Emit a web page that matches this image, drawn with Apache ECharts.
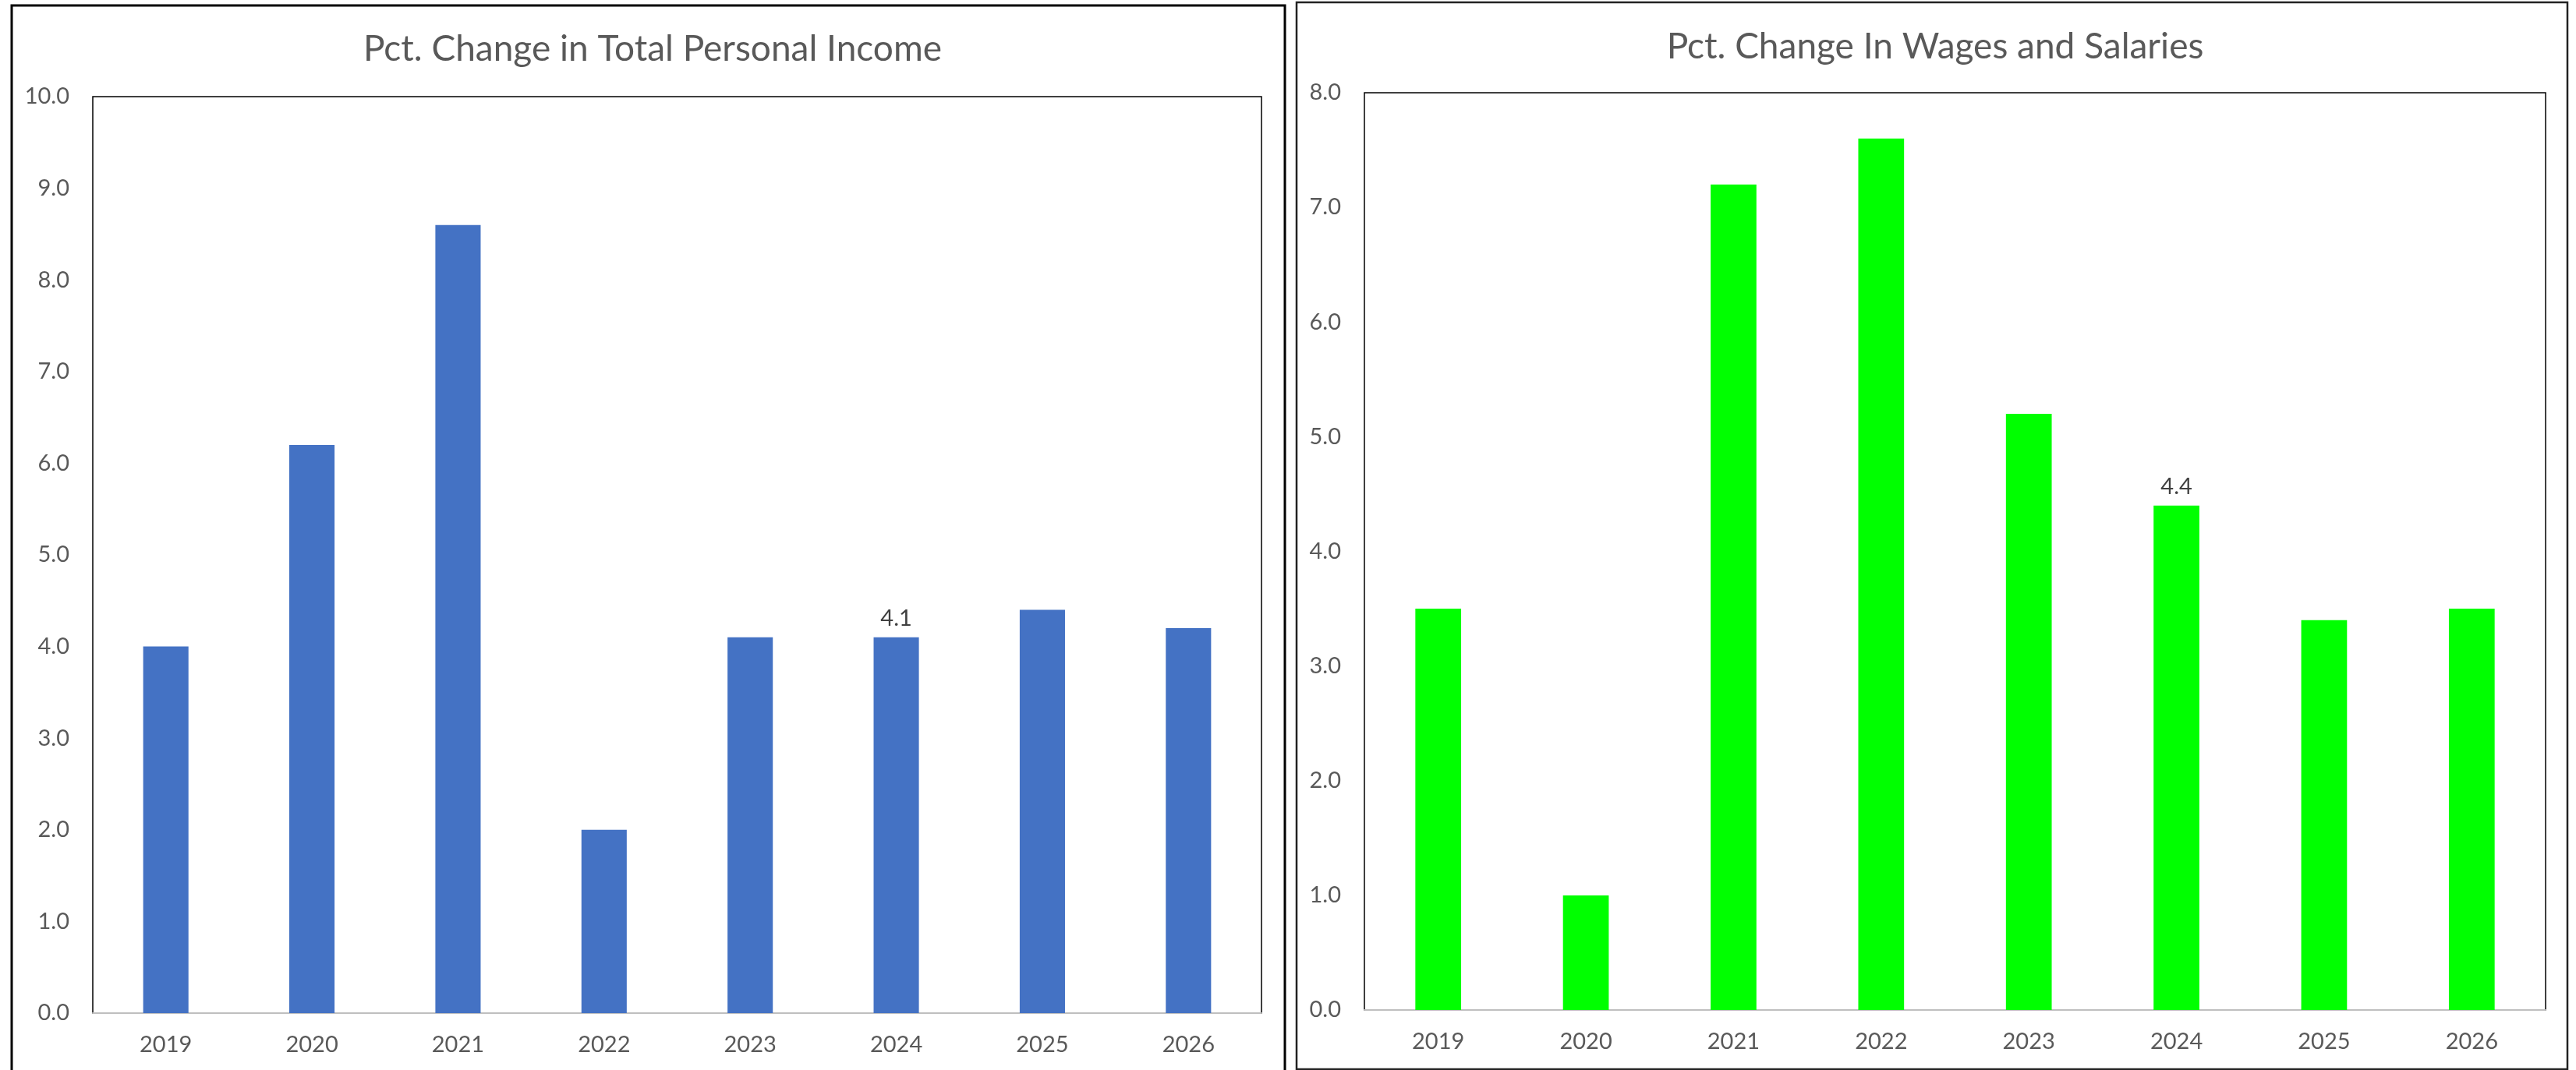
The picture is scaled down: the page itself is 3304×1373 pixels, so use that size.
<!DOCTYPE html>
<html>
<head>
<meta charset="utf-8">
<script src="https://cdn.jsdelivr.net/npm/echarts@6/dist/echarts.min.js"></script>
<style>
html,body{margin:0;padding:0;background:#fff;}
#c{width:3304px;height:1373px;}
</style>
</head>
<body>
<div id="c"></div>
<script>
const years = ['2019','2020','2021','2022','2023','2024','2025','2026'];
const incomeTitle = 'Pct. Change in Total Personal Income';
const wagesTitle = 'Pct. Change In Wages and Salaries';
const incomeValues = [4.0, 6.2, 8.6, 2.0, 4.1, 4.1, 4.4, 4.2];
const wagesValues = [3.5, 1.0, 7.2, 7.6, 5.2, 4.4, 3.4, 3.5];
const labelledYear = '2024';
const incomeAxisMax = 10;
const wagesAxisMax = 8;

const FONT = 'Lato';
const labelIdx = years.indexOf(labelledYear);
function withLabel(vals){
  return vals.map((v,i)=> i===labelIdx ? {value:v, label:{show:true}} : v);
}
function yAxis(gi, max){
  return {
    type:'value', gridIndex:gi, min:0, max:max, interval:1,
    axisLine:{show:false}, axisTick:{show:false}, splitLine:{show:false},
    axisLabel:{color:'#595959', fontSize:29, fontFamily:FONT, margin:30,
      formatter:v=>v.toFixed(1)}
  };
}
function xAxis(gi){
  return {
    type:'category', gridIndex:gi, data:years,
    axisLine:{show:true, lineStyle:{color:'#BFBFBF', width:2}},
    axisTick:{show:false}, splitLine:{show:false},
    axisLabel:{color:'#595959', fontSize:29, fontFamily:FONT, margin:26}
  };
}
const chart = echarts.init(document.getElementById('c'), null, {renderer:'canvas'});
chart.setOption({
  backgroundColor:'#fff',
  animation:false,
  title:[
    {text:incomeTitle, left:832, top:35, textAlign:'center',
     textStyle:{color:'#595959', fontSize:46, fontWeight:'normal', fontFamily:FONT}},
    {text:wagesTitle, left:2477, top:32, textAlign:'center',
     textStyle:{color:'#595959', fontSize:46, fontWeight:'normal', fontFamily:FONT}}
  ],
  grid:[
    {left:119, top:124, right:1686, bottom:73, show:true, borderColor:'#000', borderWidth:1.5, backgroundColor:'#fff'},
    {left:1750, top:119, right:39, bottom:77, show:true, borderColor:'#000', borderWidth:1.5, backgroundColor:'#fff'}
  ],
  xAxis:[xAxis(0), xAxis(1)],
  yAxis:[yAxis(0, incomeAxisMax), yAxis(1, wagesAxisMax)],
  series:[
    {type:'bar', xAxisIndex:0, yAxisIndex:0, data:withLabel(incomeValues),
     barCategoryGap:'69%', itemStyle:{color:'#4472C4'},
     label:{show:false, position:'top', distance:10, color:'#404040', fontSize:29, fontFamily:FONT,
       formatter:p=>Number(p.value).toFixed(1)}},
    {type:'bar', xAxisIndex:1, yAxisIndex:1, data:withLabel(wagesValues),
     barCategoryGap:'69%', itemStyle:{color:'#00FF00'},
     label:{show:false, position:'top', distance:10, color:'#404040', fontSize:29, fontFamily:FONT,
       formatter:p=>Number(p.value).toFixed(1)}}
  ],
  graphic:[
    {type:'rect', silent:true, z:100, shape:{x:15, y:7, width:1633, height:1420},
     style:{fill:'none', stroke:'#000', lineWidth:3}},
    {type:'rect', silent:true, z:100, shape:{x:1663, y:3, width:1630, height:1369},
     style:{fill:'none', stroke:'#222', lineWidth:2.5}}
  ]
});
</script>
</body>
</html>
